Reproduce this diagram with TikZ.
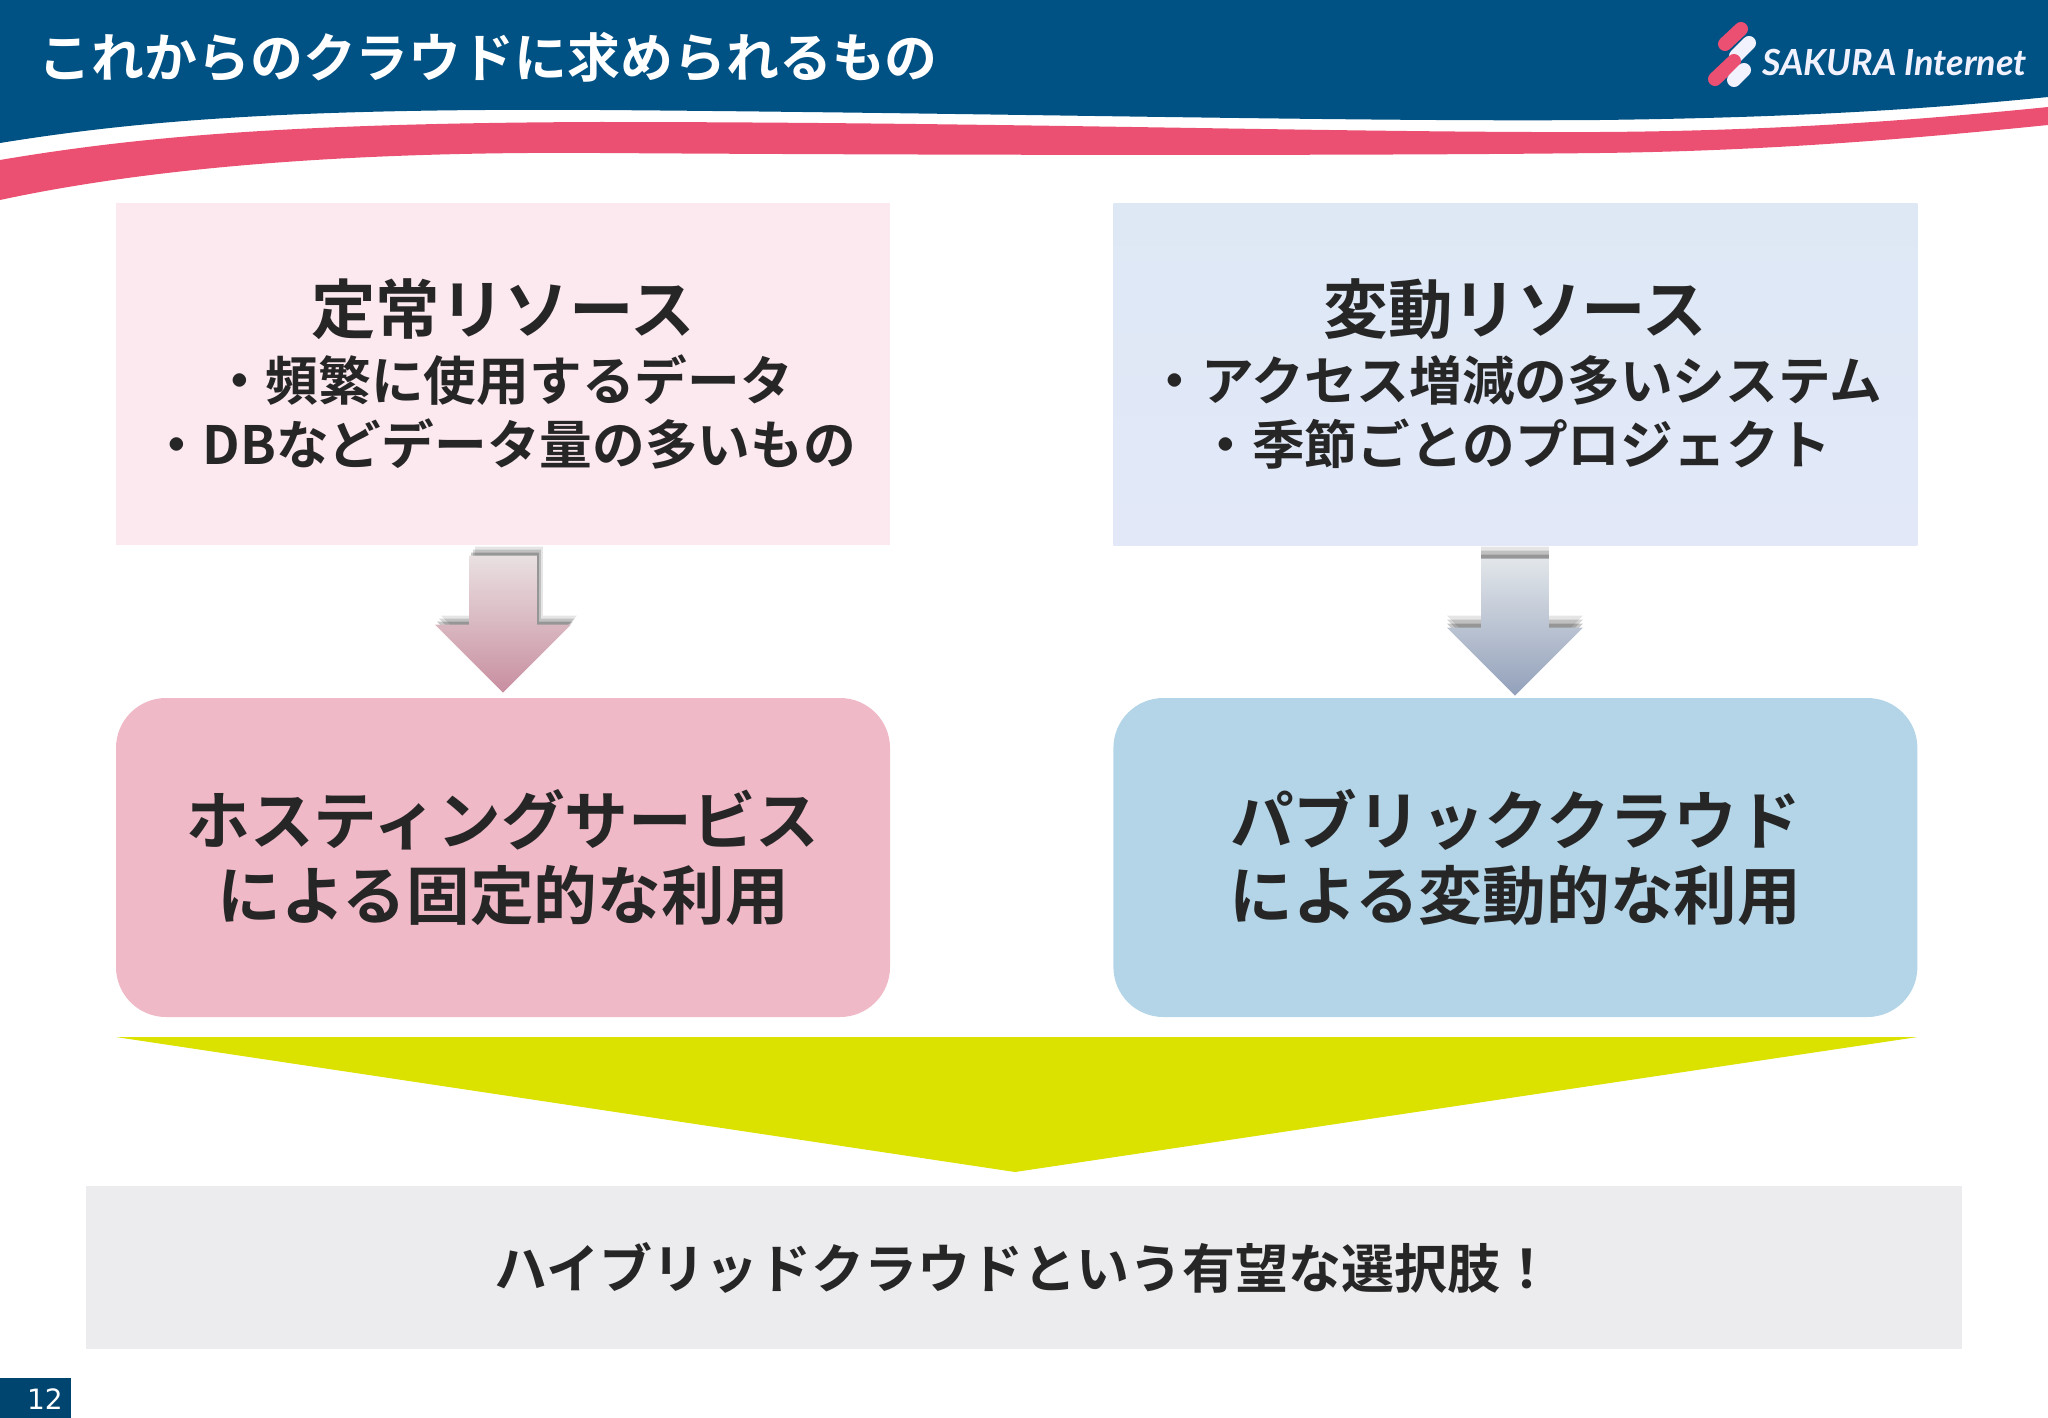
\documentclass[tikz,border=0pt]{standalone}
\usepackage{fontspec}
\setmainfont{Noto Sans CJK JP}[BoldFont={* Bold}]
\newfontfamily\logofont{Lato}
\newfontfamily\numfont{DejaVu Sans}
\usetikzlibrary{positioning,calc,shapes.arrows,shadows}
\definecolor{headblue}{HTML}{005184}
\definecolor{bandpink}{HTML}{EB5073}
\definecolor{inkdark}{HTML}{262626}
\newcommand{\bigline}{\fontsize{64.5}{63}\selectfont}
\newcommand{\smallline}{\fontsize{52.7}{63}\selectfont}
\newcommand{\midline}{\fontsize{63.7}{75}\selectfont}
\tikzset{
    sourcebox/.style={rectangle,inner sep=0pt,minimum width=774pt,minimum height=342pt,
        align=center,text=inkdark,font=\bfseries},
    usagebox/.style={rectangle,rounded corners=50pt,inner sep=0pt,minimum width=774pt,
        minimum height=319pt,align=center,text=inkdark,font=\bfseries\midline},
    blockarrow/.style={single arrow,rotate=-90,anchor=tip,inner xsep=0pt,inner ysep=33.5pt,
        minimum height=137pt,minimum width=136pt,single arrow head extend=34pt,
        single arrow head indent=0pt,single arrow tip angle=90},
    softshadow/.style 2 args={
        general shadow={shadow xshift=#1*3pt,shadow yshift=#2*3pt,fill=black,opacity=0.1},
        general shadow={shadow xshift=#1*2pt,shadow yshift=#2*2pt,fill=black,opacity=0.16},
        general shadow={shadow xshift=#1*1pt,shadow yshift=#2*1pt,fill=black,opacity=0.22}},
    logobar/.style={line cap=round,line width=14pt}
}
\begin{document}
\begin{tikzpicture}[x=1pt,y=-1pt]
    \useasboundingbox (0,0) rectangle (2048,1418);
    % header
    \fill [headblue] (0,0) -- (0,143) .. controls (130,122) and (280,108) .. (600,110)
        .. controls (1000,113) and (1350,122) .. (1600,120)
        .. controls (1760,118) and (1900,112) .. (2048,97) -- (2048,0) -- cycle;
    \fill [bandpink] (0,160) .. controls (130,138) and (280,123) .. (600,122)
        .. controls (1000,122) and (1350,133) .. (1600,132)
        .. controls (1760,131) and (1900,122) .. (2048,107) -- (2048,125)
        .. controls (1900,140) and (1760,151) .. (1600,153)
        .. controls (1350,156) and (900,155) .. (600,153)
        .. controls (320,151) and (130,172) .. (0,200) -- cycle;
    \node [anchor=west,text=white,font=\bfseries\fontsize{52.9}{52.9}\selectfont] (title) at (35,57) {これからのクラウドに求められるもの};
    % logo
    \draw [logobar,bandpink] (1725,44) -- (1741,29);
    \draw [logobar,white!95!blue] (1736,56) -- (1749,43);
    \draw [logobar,bandpink] (1715,79) -- (1734,61);
    \draw [logobar,white!95!blue] (1734,80) -- (1744,70);
    \node [anchor=west,inner sep=0pt,text=white!95!blue,font=\logofont\bfseries\itshape\fontsize{36}{36}\selectfont] (logo) at (1762,62) {SAKURA Internet};

    % top boxes
    \node [sourcebox,fill={rgb,255:red,252;green,233;blue,239}] (fixedsrc) at (503,374)
        {{\bigline 定常リソース}\\[14pt]{\smallline ・頻繁に使用するデータ}\\[13pt]{\smallline ・DBなどデータ量の多いもの}};
    \node [sourcebox,minimum width=804pt,top color={rgb,255:red,222;green,232;blue,245},bottom color={rgb,255:red,226;green,232;blue,248}] (varsrc) [right=223pt of fixedsrc]
        {{\bigline 変動リソース}\\[14pt]{\smallline ・アクセス増減の多いシステム}\\[13pt]{\smallline ・季節ごとのプロジェクト}};

    % arrows
    \node [blockarrow,top color={rgb,255:red,233;green,224;blue,225},bottom color={rgb,255:red,200;green,142;blue,160},
        softshadow={2}{3}] (fixedarrow) at (503,693) {};
    \node [blockarrow,top color={rgb,255:red,226;green,230;blue,234},bottom color={rgb,255:red,146;green,160;blue,186},
        softshadow={0}{4}] (vararrow) at (1515,696) {};

    % usage boxes
    \node [usagebox,fill={rgb,255:red,240;green,185;blue,200}] (fixeduse) at (503,857.5)
        {ホスティングサービス\\による固定的な利用};
    \node [usagebox,minimum width=804pt,fill={rgb,255:red,179;green,213;blue,231}] (varuse) [right=223pt of fixeduse]
        {パブリッククラウド\\による変動的な利用};

    % merge
    \fill [fill={rgb,255:red,220;green,226;blue,0}] (fixeduse.south west |- 0,1037) coordinate (mergel)
        -- (varuse.south east |- 0,1037) coordinate (merger) -- (1015,1172) coordinate (mergetip) -- cycle;
    \node [rectangle,inner sep=0pt,minimum width=1876pt,minimum height=163pt,fill={rgb,255:red,236;green,235;blue,238},
        text=inkdark,font=\bfseries\fontsize{53}{53}\selectfont] (hybrid) at (1024,1267.5)
        {ハイブリッドクラウドという有望な選択肢！};

    % page number
    \node [rectangle,anchor=south west,inner sep=0pt,minimum width=71pt,minimum height=40pt,fill=headblue!85!black] (pagebox) at (0,1418) {};
    \node [anchor=east,inner sep=0pt,text=white,font=\numfont\fontsize{28}{28}\selectfont] (pagenum) at (63,1399) {12};
\end{tikzpicture}
\end{document}
